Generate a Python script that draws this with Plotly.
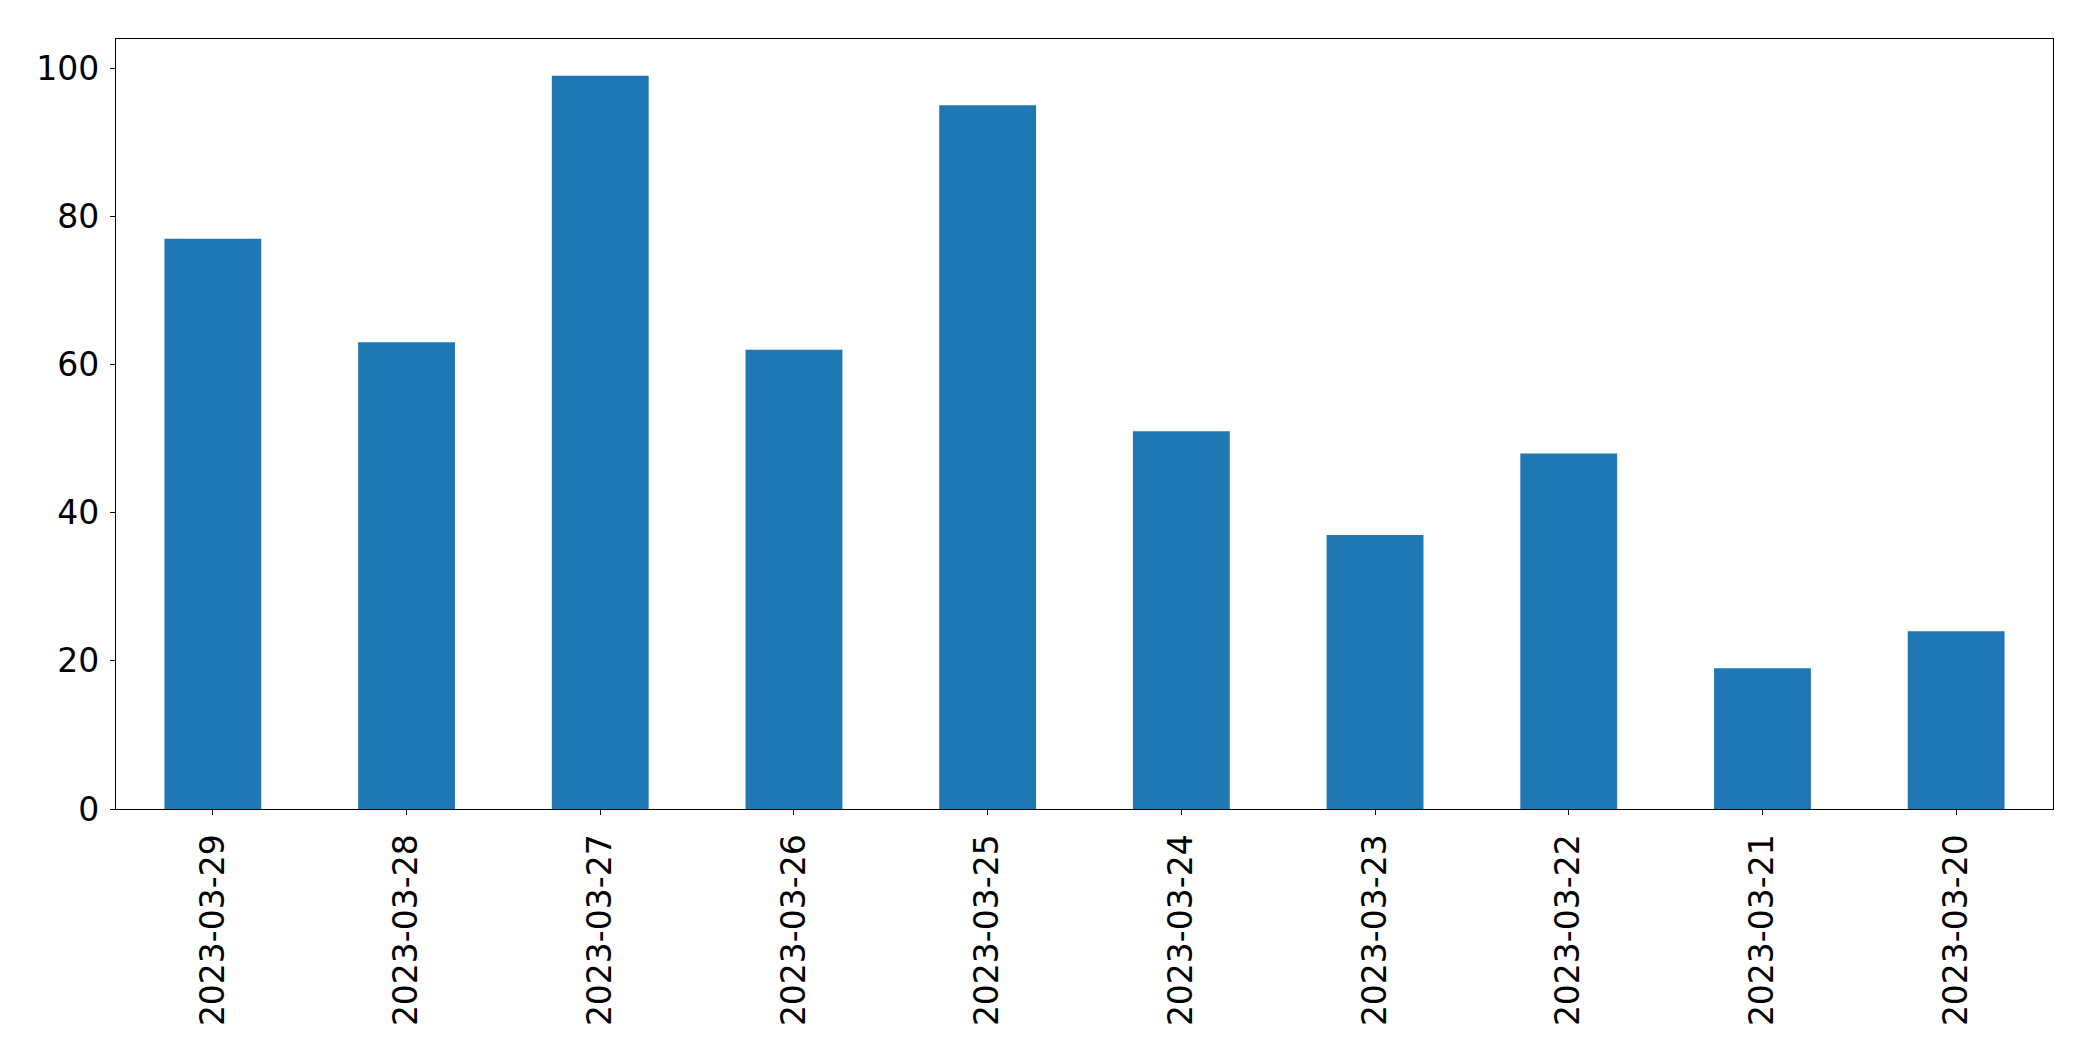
import plotly.graph_objects as go

dates = ["2023-03-29", "2023-03-28", "2023-03-27", "2023-03-26", "2023-03-25",
         "2023-03-24", "2023-03-23", "2023-03-22", "2023-03-21", "2023-03-20"]
counts = [77, 63, 99, 62, 95, 51, 37, 48, 19, 24]
y_ticks = [0, 20, 40, 60, 80, 100]

fig = go.Figure(go.Bar(x=dates, y=counts, marker=dict(color="#1f77b4", line=dict(width=0))))

fig.update_layout(
    width=2093, height=1061,
    margin=dict(l=116, r=40, t=39, b=252),
    paper_bgcolor="white", plot_bgcolor="white",
    bargap=0.5,
    showlegend=False,
    font=dict(family="DejaVu Sans", size=33, color="black"),
)
fig.update_xaxes(
    type="category", range=[-0.5, 9.5],
    tickangle=-90, ticks="outside", ticklen=5, tickwidth=1.3, tickcolor="black",
    showline=True, linecolor="black", linewidth=1.3, mirror=True,
    showgrid=False, zeroline=False, ticklabelstandoff=6,
)
fig.update_yaxes(
    range=[0, 103.95], tickvals=y_ticks, ticks="outside", ticklen=5, tickwidth=1.3,
    tickcolor="black", showline=True, linecolor="black", linewidth=1.3, mirror=True,
    showgrid=False, zeroline=False, ticklabelstandoff=4,
)

fig.write_html("out.html")
